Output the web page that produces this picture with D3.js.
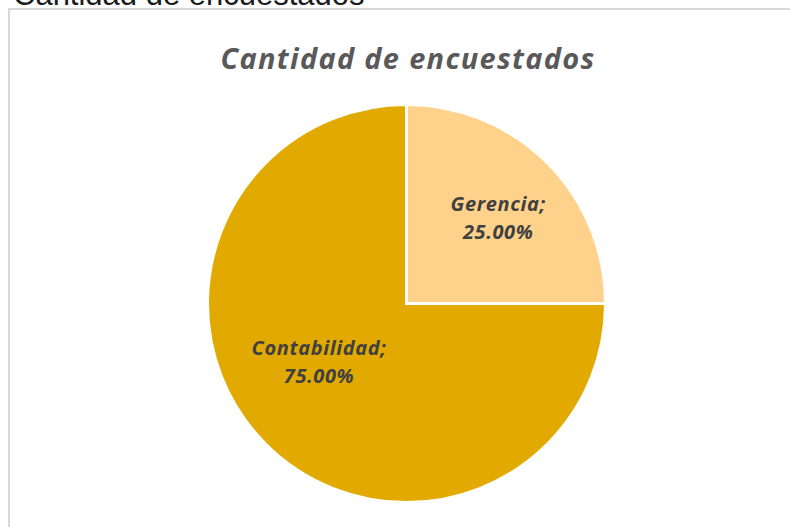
<!DOCTYPE html>
<html>
<head>
<meta charset="utf-8">
<script src="https://cdn.jsdelivr.net/npm/d3@7"></script>
<style>
  body { margin: 0; background: #fff; }
  svg { display: block; }
</style>
</head>
<body>
<div id="chart"></div>
<script>
// data
var categories = ["Gerencia", "Contabilidad"];
var values = [25, 75];
var colors = ["#FFD28B", "#E2AA00"];

var width = 790, height = 527;

var svg = d3.select("#chart")
  .append("svg")
    .attr("width", width)
    .attr("height", height);

// caption sitting above the chart box, mostly cut off by the page edge
svg.append("text")
  .attr("x", 13)
  .attr("y", 5)
  .style("font-family", "Liberation Sans, Arial, sans-serif")
  .style("font-size", "31px")
  .style("fill", "#1a1a1a")
  .text("Cantidad de encuestados");

// chart area border
svg.append("path")
  .attr("d", "M9,527 V9 H790")
  .attr("fill", "none")
  .attr("stroke", "#d9d9d9")
  .attr("stroke-width", 2);

// title
svg.append("text")
  .attr("x", 408)
  .attr("y", 69)
  .attr("text-anchor", "middle")
  .style("font-family", "'Open Sans', sans-serif")
  .style("font-weight", "bold")
  .style("font-style", "italic")
  .style("font-size", "29px")
  .style("letter-spacing", "1.3px")
  .style("fill", "#595959")
  .text("Cantidad de encuestados");

var cx = 406.5, cy = 303.5, radius = 199;

var pie = d3.pie().sort(null).value(function(d){ return d.value; });
var arc = d3.arc().innerRadius(0).outerRadius(radius);

var data = categories.map(function(c, i){ return {name: c, value: values[i], color: colors[i]}; });
var total = d3.sum(values);

var g = svg.append("g")
  .attr("transform", "translate(" + cx + "," + cy + ")");

var arcs = pie(data);

g.selectAll("path.slice")
  .data(arcs)
  .enter()
  .append("path")
    .attr("class", "slice")
    .attr("d", arc)
    .attr("fill", function(d){ return d.data.color; })
    .attr("stroke", "#fff")
    .attr("stroke-width", 3)
    .attr("stroke-linejoin", "miter");

// label placement (Excel "best fit" look): radius fraction and angle nudge per slice
var labelRadius = [0.63, 0.53];
var labelShift = [2, 11]; // degrees
var pct = d3.format(".2%");

var labels = g.selectAll("text.lbl")
  .data(arcs)
  .enter()
  .append("text")
    .attr("class", "lbl")
    .attr("text-anchor", "middle")
    .attr("transform", function(d, i){
      var a = (d.startAngle + d.endAngle) / 2 + labelShift[i] * Math.PI / 180;
      var r = radius * labelRadius[i];
      return "translate(" + (r * Math.sin(a)) + "," + (-r * Math.cos(a)) + ")";
    })
    .style("font-family", "'Open Sans', sans-serif")
    .style("font-weight", "bold")
    .style("font-style", "italic")
    .style("font-size", "20px")
    .style("letter-spacing", "0.6px")
    .style("fill", "#404040");

labels.append("tspan")
  .attr("x", 0)
  .attr("y", -7)
  .text(function(d){ return d.data.name + ";"; });

labels.append("tspan")
  .attr("x", 0)
  .attr("y", 21)
  .text(function(d){ return pct(d.data.value / total); });
</script>
</body>
</html>
